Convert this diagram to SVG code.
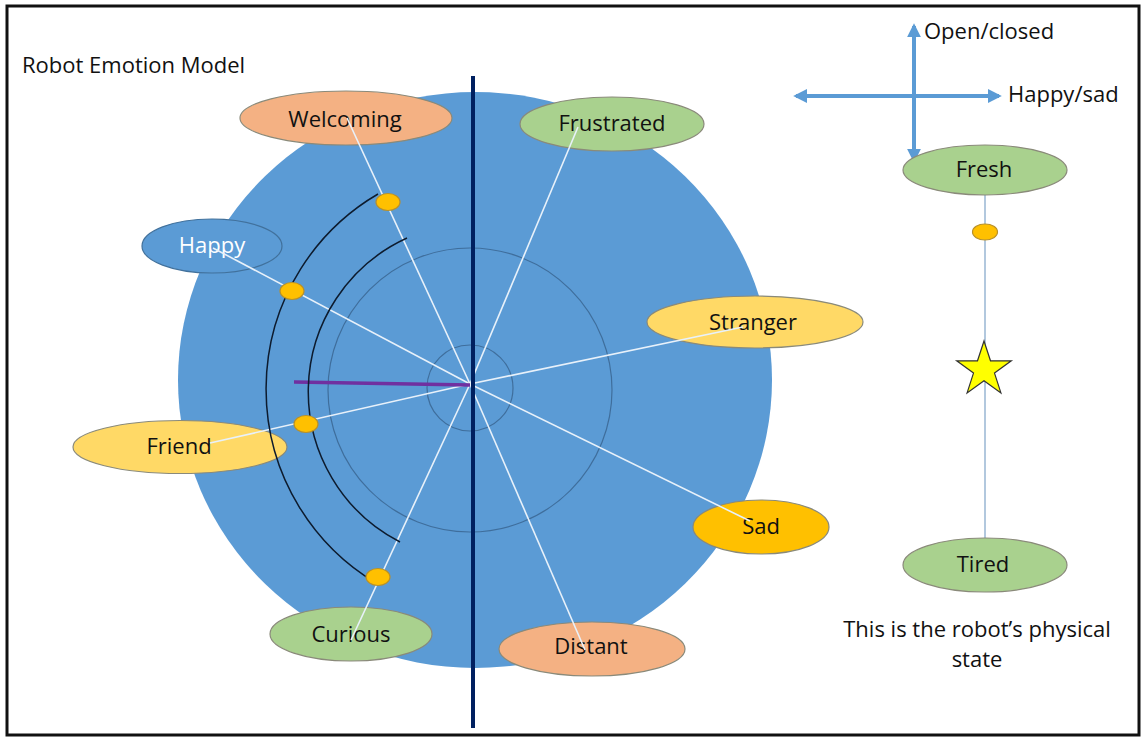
<svg xmlns="http://www.w3.org/2000/svg" width="1141" height="738" viewBox="0 0 1141 738">
<style>
text{font-family:"Open Sans","Liberation Sans",sans-serif;font-size:22px;fill:#111}
.lbl{text-anchor:middle}
.node{stroke:#8a8a7a;stroke-width:1.2}
.peach{fill:#F4B183}
.green{fill:#A9D18E}
.yel{fill:#FFD966}
.orange{fill:#FFC000}
.dot{fill:#FFC000;stroke:#B8902A;stroke-width:1.2}
.spoke{stroke:#E8F1FA;stroke-width:1.6;fill:none}
.ring{fill:none;stroke:#3F6E9C;stroke-width:1.2}
.arc{fill:none;stroke:#0d1b2e;stroke-width:1.5}
.axis{stroke:#5B9BD5;stroke-width:4;fill:none}
</style>
<defs>
<marker id="ah" viewBox="0 0 10 10" refX="8" refY="5" markerWidth="3.5" markerHeight="3.5" orient="auto-start-reverse">
<path d="M0,0 L10,5 L0,10 z" fill="#5B9BD5"/>
</marker>
</defs>
<rect x="0" y="0" width="1141" height="738" fill="#fff"/>
<rect x="7" y="6" width="1132" height="729" fill="none" stroke="#111" stroke-width="3"/>
<g id="title"><text x="22" y="73">Robot Emotion Model</text></g>

<g id="model-circle">
<ellipse cx="475" cy="380" rx="297" ry="288" fill="#5B9BD5"/>
<circle class="ring" cx="470" cy="390" r="142"/>
<circle class="ring" cx="470" cy="388" r="43"/>
</g>

<g id="welcoming"><ellipse class="node peach" cx="346" cy="118" rx="106" ry="27"/><text class="lbl" x="345" y="127">Welcoming</text></g>
<g id="frustrated"><ellipse class="node green" cx="612" cy="124" rx="92" ry="27"/><text class="lbl" x="612" y="131">Frustrated</text></g>
<g id="happy"><ellipse cx="212" cy="246" rx="70" ry="27" fill="#5B9BD5" stroke="#41719C" stroke-width="1.2"/><text class="lbl" x="212" y="253" style="fill:#fff">Happy</text></g>
<g id="stranger"><ellipse class="node yel" cx="755" cy="322" rx="108" ry="26"/><text class="lbl" x="753" y="330">Stranger</text></g>
<g id="friend"><ellipse class="node yel" cx="180" cy="447" rx="107" ry="26.5"/><text class="lbl" x="179" y="454">Friend</text></g>
<g id="sad"><ellipse class="node orange" cx="761" cy="527" rx="68" ry="27"/><text class="lbl" x="761" y="534">Sad</text></g>
<g id="curious"><ellipse class="node green" cx="351" cy="634" rx="81" ry="27"/><text class="lbl" x="351" y="642">Curious</text></g>
<g id="distant"><ellipse class="node peach" cx="592" cy="649" rx="93" ry="27"/><text class="lbl" x="591" y="654">Distant</text></g>

<g id="connectors">
<line class="spoke" x1="470" y1="384" x2="347" y2="118"/>
<line class="spoke" x1="470" y1="384" x2="213" y2="248"/>
<line class="spoke" x1="470" y1="384" x2="210" y2="443"/>
<line class="spoke" x1="470" y1="384" x2="351" y2="640"/>
<line class="spoke" x1="470" y1="384" x2="585" y2="650"/>
<line class="spoke" x1="470" y1="384" x2="750" y2="521"/>
<line class="spoke" x1="470" y1="384" x2="743" y2="327"/>
<line class="spoke" x1="470" y1="384" x2="578" y2="127"/>
<line x1="473" y1="76" x2="473" y2="728" stroke="#002060" stroke-width="4"/>
<line x1="294" y1="382" x2="470" y2="385" stroke="#7030A0" stroke-width="3.5"/>
<path class="arc" d="M378,194 A226,226 0 0 0 376,583"/>
<path class="arc" d="M407,238 A169,169 0 0 0 400,542"/>
<line x1="985" y1="195" x2="985" y2="538" stroke="#7FA3C8" stroke-width="1.2"/>
<line class="axis" x1="914" y1="160" x2="914" y2="26" marker-end="url(#ah)" marker-start="url(#ah)"/>
<line class="axis" x1="796" y1="96" x2="999" y2="96" marker-end="url(#ah)" marker-start="url(#ah)"/>
</g>

<g id="dots">
<ellipse class="dot" cx="388" cy="202" rx="12" ry="8.5"/>
<ellipse class="dot" cx="292" cy="291" rx="12" ry="8.5"/>
<ellipse class="dot" cx="306" cy="424" rx="12" ry="8.5"/>
<ellipse class="dot" cx="378" cy="577" rx="12" ry="8.5"/>
<ellipse class="dot" cx="985" cy="232" rx="12.5" ry="8"/>
</g>

<g id="axes-labels">
<text x="924" y="39">Open/closed</text>
<text x="1008" y="102">Happy/sad</text>
</g>

<g id="fresh"><ellipse class="node green" cx="985" cy="170" rx="82" ry="25"/><text class="lbl" x="984" y="177">Fresh</text></g>
<g id="tired"><ellipse class="node green" cx="985" cy="565" rx="82" ry="27"/><text class="lbl" x="983" y="572">Tired</text></g>
<g id="star"><polygon points="984,341 990.5,360.8 1011.3,360.8 994.5,373.1 1000.9,392.9 984,380.7 967.1,392.9 973.5,373.1 956.7,360.8 977.5,360.8" fill="#FFFF00" stroke="#333" stroke-width="1.2"/></g>
<g id="note">
<text class="lbl" x="977" y="637">This is the robot’s physical</text>
<text class="lbl" x="977" y="667">state</text>
</g>
</svg>
